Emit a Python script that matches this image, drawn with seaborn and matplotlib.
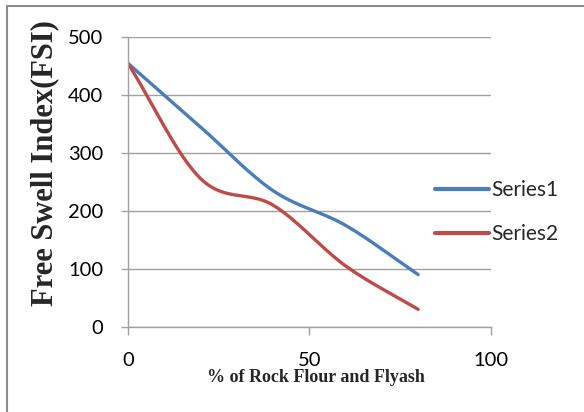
import numpy as np
import pandas as pd
import matplotlib
matplotlib.use("Agg")
import matplotlib.pyplot as plt
import seaborn as sns
from matplotlib.patches import Rectangle

# ---- data ----
x_pct = [0, 20, 40, 60, 80]
series1 = [455, 345, 235, 175, 90]
series2 = [455, 256, 210, 105, 30]
series_names = ["Series1", "Series2"]
colors = ["#4A7EBB", "#BE4B48"]
x_ticks = [0, 50, 100]
y_ticks = [0, 100, 200, 300, 400, 500]


def smooth(xs, ys, n=40):
    """Catmull-Rom smoothing (like Excel's smoothed line)."""
    xs = np.asarray(xs, float)
    ys = np.asarray(ys, float)
    P = np.column_stack([xs, ys])
    P = np.vstack([2 * P[0] - P[1], P, 2 * P[-1] - P[-2]])
    out = []
    for i in range(1, len(P) - 2):
        p0, p1, p2, p3 = P[i - 1], P[i], P[i + 1], P[i + 2]
        t = np.linspace(0, 1, n, endpoint=(i == len(P) - 3))[:, None]
        c1 = p1 + (p2 - p0) / 6
        c2 = p2 - (p3 - p1) / 6
        pts = ((1 - t) ** 3) * p1 + 3 * ((1 - t) ** 2) * t * c1 + 3 * (1 - t) * t ** 2 * c2 + t ** 3 * p2
        out.append(pts)
    out = np.vstack(out)
    return out[:, 0], out[:, 1]


frames = []
for name, vals in zip(series_names, [series1, series2]):
    sx, sy = smooth(x_pct, vals)
    frames.append(pd.DataFrame({"x": sx, "y": sy, "series": name}))
df = pd.concat(frames, ignore_index=True)

sns.set_theme(style="white")
plt.rcParams["font.family"] = ["Lato", "DejaVu Sans"]

W, H = 584, 412
fig = plt.figure(figsize=(W / 100, H / 100), dpi=100)
ax = fig.add_axes([128 / W, 1 - 326.7 / H, (490.7 - 128) / W, (326.7 - 37.3) / H])

sns.lineplot(data=df, x="x", y="y", hue="series", palette=colors,
             sort=False, estimator=None, linewidth=2.4, ax=ax, legend=True)

ax.set_xlim(0, 100)
ax.set_ylim(0, 500)
ax.set_xticks(x_ticks)
ax.set_yticks(y_ticks)
ax.grid(axis="y", color="#A0A0A0", linewidth=1.0)
ax.set_axisbelow(True)
for s in ["top", "right"]:
    ax.spines[s].set_visible(False)
for s in ["left", "bottom"]:
    ax.spines[s].set_color("#A0A0A0")
    ax.spines[s].set_linewidth(1.0)
ax.tick_params(axis="x", direction="out", length=5.5, width=1.0, color="#A0A0A0",
               pad=13, labelsize=14.5, labelcolor="black", bottom=True)
ax.tick_params(axis="y", direction="out", length=5, width=1.0, color="#A0A0A0",
               pad=13, labelsize=14.5, labelcolor="black", left=True)

ax.set_xlabel("")
ax.set_ylabel("")
fig.text(316 / W, 1 - 377 / H, "% of Rock Flour and Flyash", ha="center", va="center",
         family="Liberation Serif", fontweight="bold", fontsize=13)
fig.text(45 / W, 1 - 163 / H, "Free Swell Index(FSI)", ha="center", va="center", rotation=90,
         family="Liberation Serif", fontweight="bold", fontsize=22)

leg = ax.legend(loc="center left", bbox_to_anchor=(435 / W, 1 - 212 / H), bbox_transform=fig.transFigure,
                frameon=False, fontsize=15, handlelength=2.6, handletextpad=0.1, labelspacing=1.15,
                borderaxespad=0, borderpad=0)
for line in leg.get_lines():
    line.set_linewidth(3)

fig.patches.append(Rectangle((7 / W, -0.1), 1.2, 1 - 6 / H + 0.1, transform=fig.transFigure,
                             fill=False, edgecolor="#8C8C8C", linewidth=1.5))

fig.savefig("out.png", dpi=100)
